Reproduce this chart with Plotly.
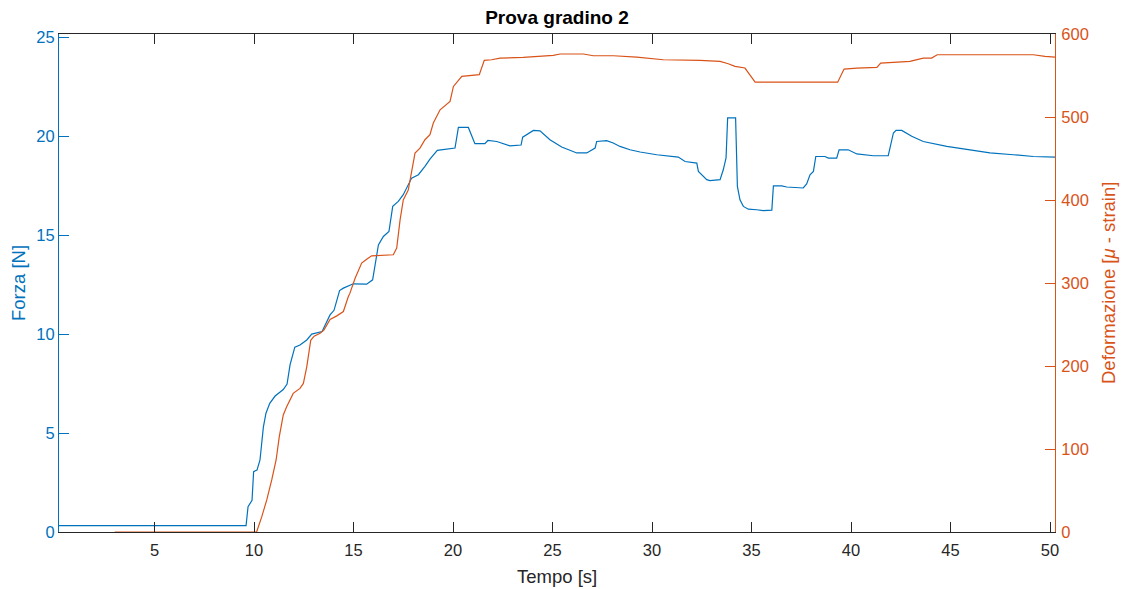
import plotly.graph_objects as go

# Forza [N] vs Tempo [s]
t_forza = [0.2, 9.6, 9.7, 9.9, 9.98, 10.15, 10.3, 10.47, 10.6, 10.79, 11.06, 11.47, 11.66, 11.81,
           12.05, 12.31, 12.65, 12.9, 13.42, 13.65, 13.82, 14.02, 14.3, 14.49, 14.99, 15.66, 15.96,
           16.25, 16.5, 16.78, 16.97, 17.25, 17.5, 17.92, 18.26, 18.59, 18.84, 19.21, 19.85, 20.1,
           20.27, 20.77, 21.1, 21.6, 21.75, 22.2, 22.86, 23.42, 23.5, 24.04, 24.37, 24.87, 25.46,
           25.71, 26.22, 26.72, 27.14, 27.22, 27.72, 28.05, 28.39, 28.89, 29.4, 30.24, 31.32, 31.66,
           32.25, 32.33, 32.75, 32.91, 33.42, 33.58, 33.72, 33.8, 34.2, 34.29, 34.42, 34.59, 34.84,
           35.26, 35.59, 36.02, 36.1, 36.52, 36.77, 37.6, 37.77, 37.94, 38.11, 38.23, 38.69, 38.86,
           39.28, 39.4, 39.86, 40.29, 41.12, 41.87, 42.13, 42.26, 42.55, 43.05, 43.63, 44.81, 45.98,
           46.98, 48.16, 49.16, 50.25]
forza = [0.32, 0.32, 1.28, 1.6, 3.05, 3.13, 3.64, 5.3, 6.0, 6.5, 6.87, 7.2, 7.47, 8.44,
         9.34, 9.45, 9.7, 10.0, 10.13, 10.63, 10.97, 11.2, 12.2, 12.32, 12.54, 12.52, 12.74,
         14.5, 14.93, 15.18, 16.45, 16.7, 17.04, 17.88, 18.05, 18.47, 18.84, 19.28, 19.35, 19.4,
         20.44, 20.44, 19.62, 19.62, 19.78, 19.73, 19.51, 19.55, 19.95, 20.29, 20.27, 19.82, 19.45,
         19.35, 19.15, 19.15, 19.4, 19.73, 19.77, 19.65, 19.48, 19.31, 19.2, 19.06, 18.94, 18.72,
         18.64, 18.22, 17.8, 17.75, 17.8, 18.3, 18.9, 20.92, 20.92, 17.46, 16.78, 16.45, 16.31,
         16.28, 16.24, 16.26, 17.49, 17.49, 17.43, 17.38, 17.59, 18.05, 18.22, 18.97, 18.97, 18.89,
         18.89, 19.31, 19.31, 19.1, 19.01, 19.01, 20.16, 20.29, 20.29, 19.99, 19.73, 19.48, 19.31,
         19.15, 19.06, 18.97, 18.94]

# Deformazione [micro-strain] vs Tempo [s]
t_def = [3.0, 10.13, 10.39, 10.64, 10.89, 11.11, 11.27, 11.47, 11.64, 11.97, 12.31, 12.48, 12.65,
         12.85, 13.02, 13.32, 13.52, 13.82, 14.16, 14.41, 14.49, 14.74, 14.82, 15.08, 15.41, 15.66,
         15.91, 17.0, 17.17, 17.34, 17.5, 17.75, 17.92, 18.09, 18.34, 18.59, 18.84, 19.01, 19.35,
         19.85, 20.02, 20.44, 21.32, 21.57, 21.94, 22.36, 23.53, 25.04, 25.38, 26.55, 27.05, 28.06,
         29.23, 30.57, 32.41, 33.42, 33.83, 34.17, 34.67, 35.18, 39.33, 39.65, 40.29, 41.3, 41.49,
         42.96, 43.63, 44.05, 44.33, 49.16, 49.75, 50.25]
deformazione = [0, 0, 18.5, 38.6, 62.7, 86.8, 114.9, 141, 151, 167, 173, 179, 199,
                231, 236, 239.5, 243.5, 256, 260.4, 263.7, 265.6, 283.7, 287.8, 305.8, 324, 328.7,
                332.7, 334, 342, 376, 400, 412, 436, 456.5, 462.5, 472.6, 478.6, 492.7, 508.7,
                518.8, 536.8, 548.9, 551, 568.2, 569, 571, 571.8, 574.2, 575.9, 575.9, 573.8, 573.8,
                572.2, 569, 568.2, 567, 564.2, 561, 559, 542, 542, 557.8, 559, 559.8, 565,
                567, 571, 571, 575, 575, 573, 572.2]

x_ticks = [5, 10, 15, 20, 25, 30, 35, 40, 45, 50]
y_ticks = [0, 5, 10, 15, 20, 25]
y2_ticks = [0, 100, 200, 300, 400, 500, 600]

BLUE = "#0072BD"
ORANGE = "#D95319"
DARK = "#262626"
FONT = "Liberation Sans"

fig = go.Figure()
fig.add_trace(go.Scatter(x=t_forza, y=forza, mode="lines", name="Forza",
                         line=dict(color=BLUE, width=1.2), yaxis="y"))
fig.add_trace(go.Scatter(x=t_def, y=deformazione, mode="lines", name="Deformazione",
                         line=dict(color=ORANGE, width=1.2), yaxis="y2"))

fig.update_layout(
    width=1129, height=589,
    margin=dict(l=59, r=74, t=34, b=57),
    paper_bgcolor="white", plot_bgcolor="white",
    showlegend=False,
    font=dict(family=FONT, size=16, color=DARK),
    title=dict(text="<b>Prova gradino 2</b>", x=(59 + 1055) / 2 / 1129, xanchor="center",
               y=1 - 17 / 589, yanchor="middle", font=dict(family=FONT, size=19, color="black")),
    xaxis=dict(range=[0.2, 50.25], tickvals=x_ticks, ticks="inside", ticklen=10, tickwidth=1,
               tickcolor=DARK, showline=True, linecolor=DARK, linewidth=1, mirror="ticks",
               showgrid=False, zeroline=False, ticklabelstandoff=3,
               tickfont=dict(size=16.5, color=DARK)),
    yaxis=dict(range=[0, 25.16], tickvals=y_ticks, ticks="inside", ticklen=10, tickwidth=1,
               tickcolor=BLUE, showline=True, linecolor=BLUE, linewidth=1,
               showgrid=False, zeroline=False, tickfont=dict(size=16.5, color=BLUE)),
    yaxis2=dict(range=[0, 600], tickvals=y2_ticks, ticks="inside", ticklen=10, tickwidth=1,
                tickcolor=ORANGE, showline=True, linecolor=ORANGE, linewidth=1,
                overlaying="y", side="right", anchor="x", ticklabelstandoff=2,
                showgrid=False, zeroline=False, tickfont=dict(size=16.5, color=ORANGE)),
    annotations=[
        dict(text="Tempo [s]", xref="paper", yref="paper", x=0.5, y=(532 - 576) / 498,
             xanchor="center", yanchor="middle", showarrow=False,
             font=dict(family=FONT, size=18.5, color=DARK)),
        dict(text="Forza [N]", xref="paper", yref="paper", x=(18 - 59) / 996, y=0.5,
             xanchor="center", yanchor="middle", showarrow=False, textangle=-90,
             font=dict(family=FONT, size=18.5, color=BLUE)),
        dict(text="Deformazione [<i>μ</i> - strain]", xref="paper", yref="paper",
             x=(1108 - 59) / 996, y=(532 - 283) / 498,
             xanchor="center", yanchor="middle", showarrow=False, textangle=-90,
             font=dict(family=FONT, size=18.5, color=ORANGE)),
    ],
)

fig.write_html("out.html")
